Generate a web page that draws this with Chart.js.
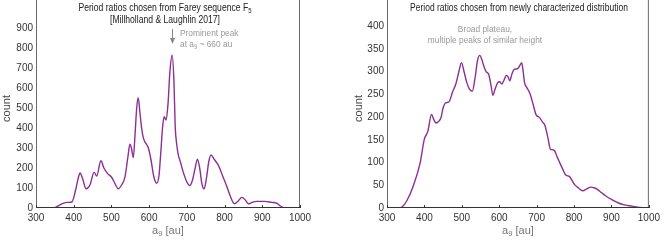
<!DOCTYPE html>
<html>
<head>
<meta charset="utf-8">
<script src="https://cdn.jsdelivr.net/npm/chart.js@4.4.1/dist/chart.umd.min.js"></script>
<style>
  html, body { margin: 0; padding: 0; background: #fff; }
  .panel { position: absolute; top: 0; width: 332px; height: 245px; }
  #left { left: 0; }
  #right { left: 332px; }
</style>
</head>
<body>
<div class="panel" id="left"><canvas id="fareyChart" width="332" height="245"></canvas></div>
<div class="panel" id="right"><canvas id="plateauChart" width="332" height="245"></canvas></div>
<script>
/* ===============================
   DATA
================================ */

// shared x axis (a_9 in au)
const xTicks = [300, 400, 500, 600, 700, 800, 900, 1000];

// left panel: Farey sequence F5
const fareyA = [300, 340, 350, 360, 370, 385, 395, 405, 412, 417, 423, 433, 443, 454, 461, 472, 480, 490,
  500, 510, 518, 527, 536, 544, 549, 553, 558, 563, 567, 571, 576, 580, 585, 598, 605, 612, 620, 626,
  631, 636, 640, 645, 650, 655, 661, 666, 669, 673, 677, 683, 689, 700, 708, 715, 722, 728, 734, 740,
  746, 752, 758, 764, 772, 784, 795, 806, 815, 826, 836, 846, 855, 863, 873, 885, 906, 925, 938, 948,
  956, 965, 1000];
const fareyCount = [0, 0, 2, 12, 22, 28, 30, 90, 150, 175, 150, 96, 115, 178, 160, 236, 200, 172,
  155, 120, 96, 115, 156, 260, 319, 300, 252, 380, 500, 552, 470, 400, 348, 300, 240, 160, 124, 160,
  280, 411, 456, 440, 520, 680, 764, 620, 411, 320, 268, 230, 188, 130, 112, 140, 200, 244, 200, 120,
  96, 150, 230, 265, 245, 212, 160, 108, 60, 21, 35, 53, 40, 21, 28, 33, 33, 28, 24, 10,
  2, 0, 0];
const fareyYTicks = [0, 100, 200, 300, 400, 500, 600, 700, 800, 900];

// right panel: newly characterized distribution
const plateauA = [300, 330, 340, 353, 370, 388, 400, 409, 419, 425, 431, 437, 444, 450, 456, 466, 475,
  484, 492, 499, 506, 513, 520, 528, 536, 542, 548, 553, 559, 565, 572, 578, 583, 589, 596, 601, 607,
  613, 619, 624, 628, 634, 640, 646, 651, 656, 660, 664, 668, 673, 682, 690, 698, 708, 715, 722, 730,
  737, 743, 748, 755, 761, 770, 777, 788, 795, 801, 812, 823, 834, 845, 855, 862, 873, 884, 900, 919,
  935, 955, 975, 990, 1000];
const plateauCount = [0, 0, 2, 16, 48, 97, 152, 168, 206, 195, 187, 190, 198, 220, 231, 234, 255,
  273, 300, 320, 300, 277, 262, 257, 290, 325, 336, 328, 312, 300, 294, 270, 248, 262, 276, 278, 273,
  282, 292, 288, 280, 295, 305, 306, 308, 315, 320, 300, 275, 266, 252, 230, 206, 199, 190, 182, 155,
  129, 128, 126, 112, 101, 85, 73, 69, 60, 52, 44, 38, 42, 46, 44, 41, 34, 27, 19, 11,
  7, 4, 1, 0, 0];
const plateauYTicks = [0, 50, 100, 150, 200, 250, 300, 350, 400];

/* ===============================
   HELPERS
================================ */

const LINE_COLOR = "#8b2f93";
const FONT = '"Liberation Sans", Arial, sans-serif';

// text with lowered small parts (a_9, F_5); parts = [[text, isSub], ...]
// sx squeezes the text horizontally to get the condensed look of the original
function drawRich(ctx, parts, x, y, size, color, align, sx = 1) {
  ctx.save();
  ctx.fillStyle = color;
  ctx.textBaseline = "middle";
  ctx.textAlign = "left";
  const widths = parts.map(([t, sub]) => {
    ctx.font = `${sub ? size * 0.7 : size}px ${FONT}`;
    return ctx.measureText(t).width * sx;
  });
  const total = widths.reduce((s, w) => s + w, 0);
  let cx = align === "left" ? x : x - total / 2;
  parts.forEach(([t, sub], i) => {
    ctx.font = `${sub ? size * 0.7 : size}px ${FONT}`;
    ctx.save();
    ctx.translate(cx, sub ? y + size * 0.3 : y);
    ctx.scale(sx, 1);
    ctx.fillText(t, 0, 0);
    ctx.restore();
    cx += widths[i];
  });
  ctx.restore();
}

/* Frame, axis line, inward ticks, x title */
const framePlugin = {
  id: "frame",
  afterDraw(chart) {
    const { ctx, chartArea: a, scales } = chart;
    ctx.save();
    ctx.lineWidth = 1;
    ctx.strokeStyle = "#6a6a6a";
    ctx.beginPath();
    ctx.moveTo(a.left + 0.5, 0);
    ctx.lineTo(a.left + 0.5, a.bottom);
    ctx.moveTo(a.right - 0.5, 0);
    ctx.lineTo(a.right - 0.5, a.bottom);
    ctx.stroke();

    ctx.strokeStyle = "#333";
    ctx.beginPath();
    ctx.moveTo(a.left, a.bottom - 0.5);
    ctx.lineTo(a.right, a.bottom - 0.5);
    xTicks.forEach(v => {
      const x = Math.round(scales.x.getPixelForValue(v)) + 0.5;
      ctx.moveTo(x, a.bottom);
      ctx.lineTo(x, a.bottom - 3);
    });
    ctx.stroke();
    ctx.restore();

    drawRich(ctx, [["a", false], ["9", true], [" [au]", false]],
      (a.left + a.right) / 2, 231, 11, "#777", "center");
  }
};

function buildChart(canvas, aVals, counts, yMax, yTicks, pad, yWidth, notes) {
  return new Chart(canvas, {
    type: "line",
    data: {
      datasets: [{
        data: aVals.map((a, i) => ({ x: a, y: counts[i] })),
        borderColor: LINE_COLOR,
        borderWidth: 1.4,
        pointRadius: 0,
        cubicInterpolationMode: "monotone",
        fill: false
      }]
    },
    options: {
      responsive: false,
      animation: false,
      layout: { padding: pad },
      plugins: { legend: { display: false }, tooltip: { enabled: false } },
      scales: {
        x: {
          type: "linear",
          min: 300,
          max: 1000,
          grid: { display: false, drawTicks: false },
          border: { display: false },
          afterBuildTicks: s => { s.ticks = xTicks.map(v => ({ value: v })); },
          afterFit: s => { s.height = 37; },
          ticks: {
            color: "#333",
            font: { family: FONT, size: 10 },
            padding: 4,
            maxRotation: 0,
            callback: v => String(v)
          }
        },
        y: {
          min: 0,
          max: yMax,
          grid: { display: false, drawTicks: false },
          border: { display: false },
          afterBuildTicks: s => { s.ticks = yTicks.map(v => ({ value: v })); },
          afterFit: s => { s.width = yWidth; },
          ticks: { color: "#333", font: { family: FONT, size: 10 }, padding: 3 },
          title: {
            display: true,
            text: "count",
            color: "#444",
            font: { family: FONT, size: 11 },
            padding: 0
          }
        }
      }
    },
    plugins: [framePlugin, { id: "notes", afterDraw: notes }]
  });
}

/* ===============================
   CHARTS
================================ */

buildChart(document.getElementById("fareyChart"), fareyA, fareyCount, 995, fareyYTicks,
  { left: 0, right: 32, top: 0, bottom: 0 }, 36,
  chart => {
    const { ctx, scales } = chart;
    drawRich(ctx, [["Period ratios chosen from Farey sequence F", false], ["5", true]],
      165, 8, 10, "#222", "center", 0.86);
    drawRich(ctx, [["[Millholland & Laughlin 2017]", false]], 165, 20, 10, "#222", "center", 0.86);

    // arrow to the peak
    const ax = Math.round(scales.x.getPixelForValue(660)) + 0.5;
    ctx.save();
    ctx.strokeStyle = "#888";
    ctx.fillStyle = "#888";
    ctx.lineWidth = 1;
    ctx.beginPath();
    ctx.moveTo(ax, 29);
    ctx.lineTo(ax, 40);
    ctx.stroke();
    ctx.beginPath();
    ctx.moveTo(ax - 2.5, 38);
    ctx.lineTo(ax + 2.5, 38);
    ctx.lineTo(ax, 44);
    ctx.closePath();
    ctx.fill();
    ctx.restore();

    drawRich(ctx, [["Prominent peak", false]], 180, 33, 9.5, "#999", "left", 0.88);
    drawRich(ctx, [["at a", false], ["9", true], [" ~ 660 au", false]], 180, 44, 9.5, "#999", "left", 0.88);
  });

buildChart(document.getElementById("plateauChart"), plateauA, plateauCount, 438, plateauYTicks,
  { left: 20, right: 12, top: 0, bottom: 0 }, 35,
  chart => {
    const { ctx } = chart;
    drawRich(ctx, [["Period ratios chosen from newly characterized distribution", false]],
      187, 8, 10, "#222", "center", 0.85);
    drawRich(ctx, [["Broad plateau,", false]], 153, 29, 9.5, "#999", "center", 0.88);
    drawRich(ctx, [["multiple peaks of similar height", false]], 153, 40, 9.5, "#999", "center", 0.88);
  });
</script>
</body>
</html>
